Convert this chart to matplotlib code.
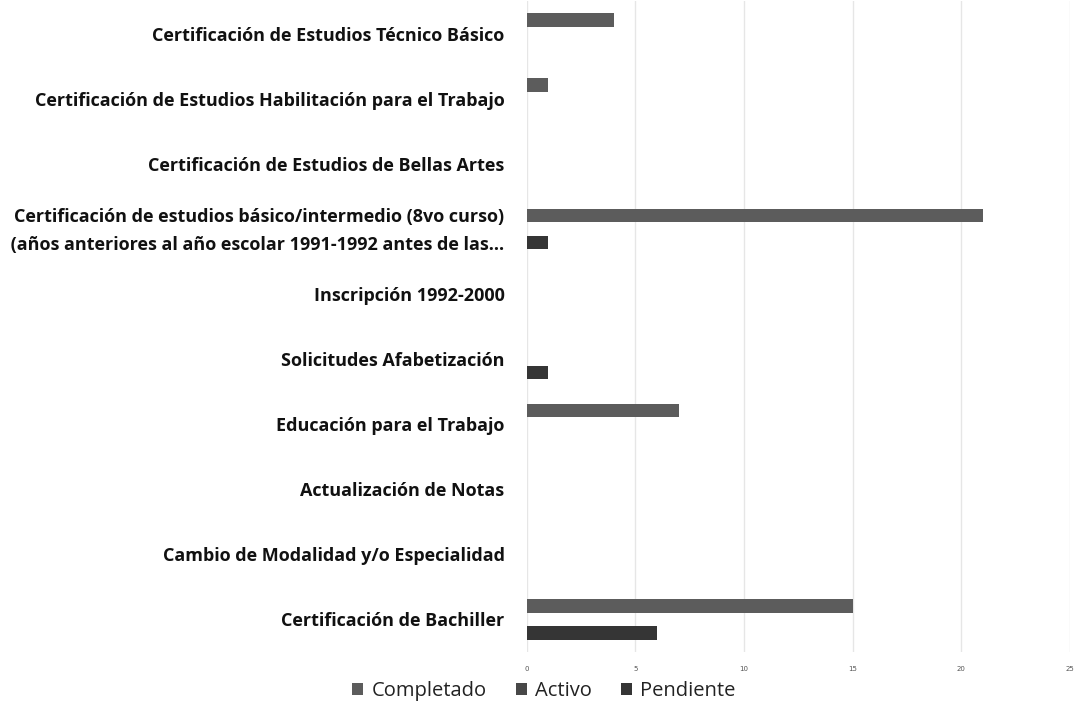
import matplotlib
matplotlib.use("Agg")
import matplotlib.pyplot as plt
from matplotlib.transforms import ScaledTranslation
import numpy as np

categories = [
    "Certificación de Bachiller",
    "Cambio de Modalidad y/o Especialidad",
    "Actualización de Notas",
    "Educación para el Trabajo",
    "Solicitudes Afabetización",
    "Inscripción 1992-2000",
    "Certificación de estudios básico/intermedio (8vo curso)\n (años anteriores al año escolar 1991-1992 antes de las...",
    "Certificación de Estudios de Bellas Artes",
    "Certificación de Estudios Habilitación para el Trabajo",
    "Certificación de Estudios Técnico Básico",
]
series_names = ["Completado", "Activo", "Pendiente"]
completado = [15, 0, 0, 7, 0, 0, 21, 0, 1, 4]
activo = [0, 0, 0, 0, 0, 0, 0, 0, 0, 0]
pendiente = [6, 0, 0, 0, 1, 0, 1, 0, 0, 0]
xticks = [0, 5, 10, 15, 20, 25]

colors = ["#5c5c5c", "#484848", "#353535"]

fig = plt.figure(figsize=(10.75, 7.11), dpi=100)
ax = fig.add_axes([0.490, 0.083, 0.5051, 0.9156])

y = np.arange(len(categories))
h = 0.207
offsets = [h, 0, -h]
for vals, off, col, name in zip([completado, activo, pendiente], offsets, colors, series_names):
    ax.barh(y + off, vals, height=h, color=col, label=name, zorder=3)

ax.set_ylim(-0.5, len(categories) - 0.5)
ax.set_xlim(0, 25)
ax.set_xticks(xticks)
ax.set_xticklabels([str(t) for t in xticks], fontsize=5, color="#555555")
ax.set_yticks(y)
ax.set_yticklabels(categories, fontsize=12.95, fontweight="bold", family="Open Sans",
                   color="#111111", linespacing=1.75)
ax.tick_params(axis="y", length=0, pad=16)
ax.tick_params(axis="x", length=0, pad=10)
ax.grid(axis="x", color="#e6e6e6", linewidth=1, zorder=0)
for s in ax.spines.values():
    s.set_visible(False)

lbl = ax.get_yticklabels()[6]
lbl.set_transform(lbl.get_transform() + ScaledTranslation(0, 5 / 100, fig.dpi_scale_trans))

leg = fig.legend(loc="center", bbox_to_anchor=(0.506, 0.028), ncol=3, frameon=False,
                 prop={"family": "Open Sans", "size": 14.5}, handlelength=0.55, handleheight=0.55,
                 handletextpad=0.4, columnspacing=1.45)
for t in leg.get_texts():
    t.set_color("#222222")

fig.savefig("out.png", dpi=100, facecolor="white")
